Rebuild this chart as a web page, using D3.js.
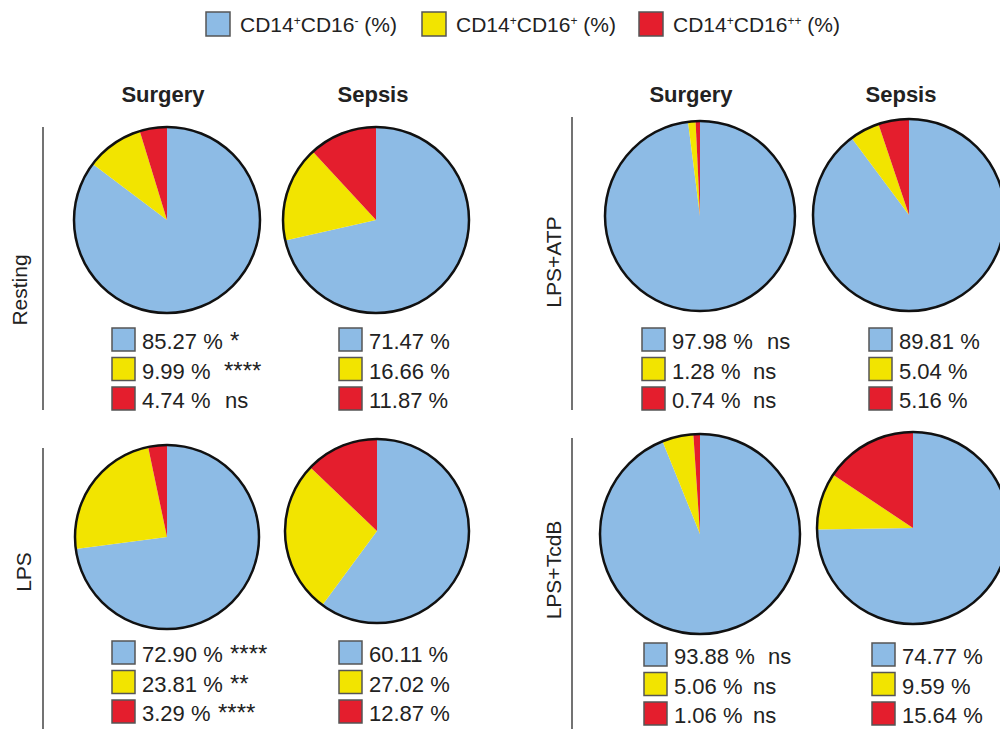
<!DOCTYPE html>
<html>
<head>
<meta charset="utf-8">
<script src="https://cdn.jsdelivr.net/npm/d3@7/dist/d3.min.js"></script>
<style>
  html, body { margin: 0; padding: 0; background: #fff; }
  svg { display: block; font-family: "Liberation Sans", Arial, sans-serif; }
</style>
</head>
<body>
<svg id="chart" width="1000" height="729"></svg>
<script>
// Monocyte subsets (share of CD14+ cells, %)
const subsets = ["CD14+CD16-", "CD14+CD16+", "CD14+CD16++"];
const subsetColors = ["#8dbbe5", "#f2e400", "#e41e2d"];

// Stimulation conditions and patient groups
const conditions = ["Resting", "LPS", "LPS+ATP", "LPS+TcdB"];
const groups = ["Surgery", "Sepsis"];

// Subset shares per condition: [CD16-, CD16+, CD16++]
const surgeryValues = [
  [85.27, 9.99, 4.74],
  [72.90, 23.81, 3.29],
  [97.98, 1.28, 0.74],
  [93.88, 5.06, 1.06]
];
const sepsisValues = [
  [71.47, 16.66, 11.87],
  [60.11, 27.02, 12.87],
  [89.81, 5.04, 5.16],
  [74.77, 9.59, 15.64]
];
// Significance of Surgery vs. Sepsis per subset
const surgerySignif = [
  ["*", "****", "ns"],
  ["****", "**", "****"],
  ["ns", "ns", "ns"],
  ["ns", "ns", "ns"]
];

// Layout of the four condition blocks (left column: Resting, LPS; right: LPS+ATP, LPS+TcdB)
const blockLayout = [
  { lineX: 43,  lineY: [127, 410], labelX: 27,  labelY: 290,
    pies: [{ cx: 167, cy: 220, r: 93 }, { cx: 376, cy: 220, r: 93 }],
    keys: [{ x: 112, y: 328, sigX: [230, 224, 225] }, { x: 339, y: 328 }] },
  { lineX: 43,  lineY: [448, 729], labelX: 31,  labelY: 572,
    pies: [{ cx: 167, cy: 537, r: 92 }, { cx: 377, cy: 531, r: 92 }],
    keys: [{ x: 112, y: 641, sigX: [230, 230, 218] }, { x: 339, y: 641 }] },
  { lineX: 572, lineY: [117, 410], labelX: 561, labelY: 262,
    pies: [{ cx: 700, cy: 216, r: 95 }, { cx: 909, cy: 215, r: 96 }],
    keys: [{ x: 642, y: 328, sigX: [767, 753, 753] }, { x: 869, y: 328 }] },
  { lineX: 572, lineY: [438, 729], labelX: 561, labelY: 570,
    pies: [{ cx: 700, cy: 534, r: 100 }, { cx: 913, cy: 528, r: 96 }],
    keys: [{ x: 644, y: 643, sigX: [768, 753, 753] }, { x: 872, y: 643 }] }
];
const headerX = [[163, 373], [691, 901]];

const svg = d3.select("#chart");
const textColor = "#222";

// Legend with superscripted subset names
const legendX = [206, 422, 639];
function subsetLabel(sel, name, supSize) {
  const m = name.match(/^CD14(\+)CD16(.+)$/);
  sel.append("tspan").text("CD14");
  sel.append("tspan").attr("font-size", supSize).attr("dy", -7).text(m[1]);
  sel.append("tspan").attr("dy", 7).text("CD16");
  sel.append("tspan").attr("font-size", supSize).attr("dy", -7).text(m[2]);
  sel.append("tspan").attr("dy", 7).text(" (%)");
}
const legend = svg.append("g");
subsets.forEach((name, i) => {
  const g = legend.append("g").attr("transform", `translate(${legendX[i]},12)`);
  g.append("rect").attr("width", 24).attr("height", 24)
    .attr("fill", subsetColors[i]).attr("stroke", "#555").attr("stroke-width", 1.5);
  const t = g.append("text").attr("x", 34).attr("y", 20)
    .attr("font-size", 21).attr("fill", textColor);
  subsetLabel(t, name, 12);
});

// Column headers
headerX.forEach(xs => xs.forEach((x, j) => {
  svg.append("text").attr("x", x).attr("y", 102).attr("text-anchor", "middle")
    .attr("font-size", 22).attr("font-weight", "bold").attr("fill", textColor)
    .text(groups[j]);
}));

const pie = d3.pie().sort(null).value(d => d);
const valueFmt = d3.format(".2f");

conditions.forEach((cond, ci) => {
  const L = blockLayout[ci];
  // bracket line and condition label
  svg.append("line").attr("x1", L.lineX).attr("x2", L.lineX)
    .attr("y1", L.lineY[0]).attr("y2", L.lineY[1])
    .attr("stroke", "#444").attr("stroke-width", 1.5);
  svg.append("text")
    .attr("transform", `translate(${L.labelX},${L.labelY}) rotate(-90)`)
    .attr("text-anchor", "middle").attr("font-size", 21).attr("fill", textColor)
    .text(cond);

  [surgeryValues[ci], sepsisValues[ci]].forEach((vals, gi) => {
    const P = L.pies[gi];
    const arc = d3.arc().innerRadius(0).outerRadius(P.r);
    const g = svg.append("g").attr("transform", `translate(${P.cx},${P.cy})`);
    g.selectAll("path").data(pie(vals)).join("path")
      .attr("d", arc).attr("fill", (d, i) => subsetColors[i]);
    g.append("circle").attr("r", P.r).attr("fill", "none")
      .attr("stroke", "#111").attr("stroke-width", 2.5);

    // value key below each pie
    const K = L.keys[gi];
    vals.forEach((v, i) => {
      const y = K.y + i * 29.5;
      svg.append("rect").attr("x", K.x).attr("y", y).attr("width", 23).attr("height", 23)
        .attr("fill", subsetColors[i]).attr("stroke", "#555").attr("stroke-width", 1.5);
      svg.append("text").attr("x", K.x + 30).attr("y", y + 21)
        .attr("font-size", 22).attr("fill", textColor)
        .text(`${valueFmt(v)} %`);
      if (gi === 0) {
        const s = surgerySignif[ci][i];
        svg.append("text").attr("x", K.sigX[i]).attr("y", y + 21)
          .attr("font-size", s === "ns" ? 22 : 24).attr("fill", textColor)
          .text(s);
      }
    });
  });
});
</script>
</body>
</html>
